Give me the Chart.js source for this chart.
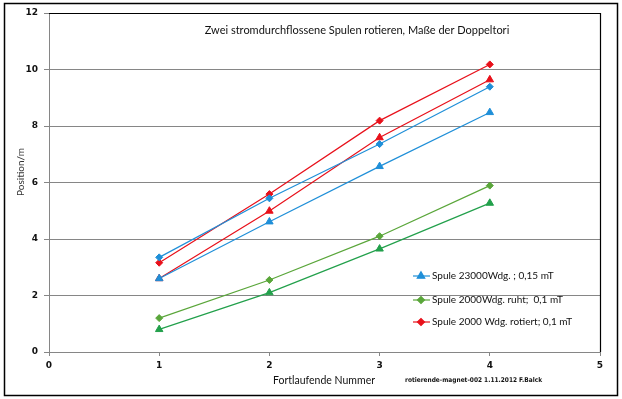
<!DOCTYPE html>
<html>
<head>
<meta charset="utf-8">
<script src="https://cdn.jsdelivr.net/npm/chart.js@4/dist/chart.umd.min.js"></script>
<style>
  body { margin: 0; background: #fff; }
  canvas { display: block; }
</style>
</head>
<body>
<canvas id="spulenChart" width="622" height="399"></canvas>
<script>
// Fortlaufende Nummer
const xValues = [1, 2, 3, 4];
// Position/m
const blueTri = [2.6, 4.61, 6.57, 8.48];
const blueDia = [3.35, 5.44, 7.36, 9.39];
const greenDia = [1.2, 2.55, 4.1, 5.89];
const greenTri = [0.8, 2.1, 3.65, 5.27];
const redDia = [3.16, 5.59, 8.19, 10.18];
const redTri = [2.6, 4.99, 7.59, 9.64];

const legendLabels = ['Spule 23000Wdg. ; 0,15 mT', 'Spule 2000Wdg. ruht;  0,1 mT', 'Spule 2000 Wdg. rotiert; 0,1 mT'];
const yTicks = [0, 2, 4, 6, 8, 10, 12];

const BLUE = '#1f8fd8';
const GREEN_D = '#5aa63a';
const GREEN_T = '#22a04b';
const RED = '#e8101a';

function pts(vals) {
  return vals.map((v, i) => ({ x: xValues[i], y: v }));
}

function series(label, vals, color, style) {
  return {
    label: label,
    data: pts(vals),
    borderColor: color,
    backgroundColor: color,
    borderWidth: 1.2,
    pointStyle: style,
    pointRadius: style === 'triangle' ? 4.3 : 3.5,
    pointBorderWidth: 1,
    tension: 0
  };
}

const datasets = [
  series(legendLabels[0], blueTri, BLUE, 'triangle'),
  series('Spule 23000Wdg. (2)', blueDia, BLUE, 'rectRot'),
  series(legendLabels[1], greenDia, GREEN_D, 'rectRot'),
  series('Spule 2000Wdg. ruht (2)', greenTri, GREEN_T, 'triangle'),
  series(legendLabels[2], redDia, RED, 'rectRot'),
  series('Spule 2000 Wdg. rotiert (2)', redTri, RED, 'triangle')
];
const legendIdx = [0, 2, 4];

// titles, frame and inner legend
const decor = {
  id: 'decor',
  beforeDraw(chart) {
    const ctx = chart.ctx;
    ctx.save();
    ctx.fillStyle = '#fff';
    ctx.fillRect(0, 0, chart.width, chart.height);
    ctx.restore();
  },
  afterDraw(chart) {
    const ctx = chart.ctx;
    const a = chart.chartArea;
    ctx.save();
    // outer frame
    ctx.strokeStyle = '#000';
    ctx.lineWidth = 1.5;
    ctx.strokeRect(4.5, 3.5, 613, 392);
    // plot area top/right border
    ctx.lineWidth = 1.2;
    ctx.beginPath();
    ctx.moveTo(a.left, a.top + 0.5);
    ctx.lineTo(a.right + 0.5, a.top + 0.5);
    ctx.lineTo(a.right + 0.5, a.bottom);
    ctx.stroke();

    ctx.fillStyle = '#111';
    ctx.textBaseline = 'middle';
    ctx.textAlign = 'center';
    ctx.font = '11px Lato';
    ctx.fillText('Zwei stromdurchflossene Spulen rotieren, Maße der Doppeltori', 357, 30);

    ctx.font = '10.5px Lato';
    ctx.fillText('Fortlaufende Nummer', 324, 381);

    ctx.font = 'bold 6.5px "DejaVu Sans Condensed"';
    ctx.textAlign = 'left';
    ctx.fillText('rotierende-magnet-002 1.11.2012 F.Balck', 405, 380);

    ctx.save();
    ctx.translate(21, 172);
    ctx.rotate(-Math.PI / 2);
    ctx.textAlign = 'center';
    ctx.font = '10px Lato';
    ctx.fillStyle = '#333';
    ctx.fillText('Position/m', 0, 0);
    ctx.restore();

    // legend inside plot
    const rows = [276, 300, 322];
    legendIdx.forEach((di, k) => {
      const ds = chart.data.datasets[di];
      const y = rows[k];
      ctx.strokeStyle = ds.borderColor;
      ctx.lineWidth = 1.2;
      ctx.beginPath();
      ctx.moveTo(413, y);
      ctx.lineTo(430, y);
      ctx.stroke();
      ctx.fillStyle = ds.backgroundColor;
      Chart.helpers.drawPoint(ctx, {
        pointStyle: ds.pointStyle,
        radius: ds.pointRadius,
        rotation: 0,
        borderWidth: 1
      }, 421, y);
      ctx.fillStyle = '#111';
      ctx.font = '10px Lato';
      ctx.textAlign = 'left';
      ctx.fillText(ds.label, 432, y);
    });
    ctx.restore();
  }
};

new Chart(document.getElementById('spulenChart'), {
  type: 'line',
  data: { datasets: datasets },
  options: {
    responsive: false,
    animation: false,
    layout: { padding: { top: 13, right: 22, left: 0, bottom: 0 } },
    scales: {
      x: {
        type: 'linear',
        min: 0,
        max: 5,
        afterFit(scale) { scale.height = 47; },
        ticks: {
          stepSize: 1,
          padding: 4,
          color: '#111',
          font: { family: 'DejaVu Sans', size: 9, weight: 'bold' }
        },
        grid: { drawOnChartArea: false, color: '#868686', tickLength: 4 },
        border: { color: '#868686', width: 1 }
      },
      y: {
        min: 0,
        max: 12,
        afterFit(scale) { scale.width = 49; },
        afterBuildTicks(scale) { scale.ticks = yTicks.map(v => ({ value: v })); },
        ticks: {
          padding: 6,
          color: '#111',
          font: { family: 'DejaVu Sans', size: 9, weight: 'bold' }
        },
        grid: { color: '#868686', tickLength: 5 },
        border: { color: '#868686', width: 1 }
      }
    },
    plugins: {
      legend: { display: false },
      tooltip: { enabled: false }
    }
  },
  plugins: [decor]
});
</script>
</body>
</html>
